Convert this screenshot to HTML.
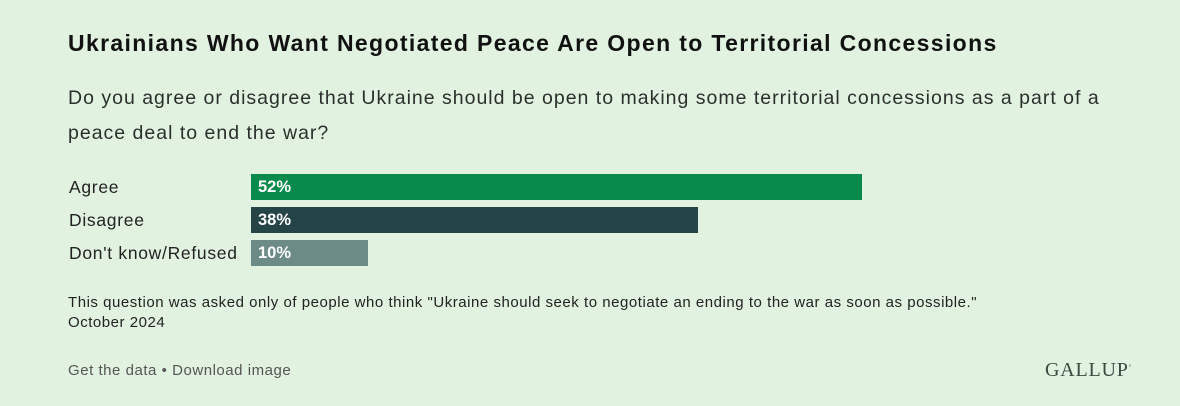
<!DOCTYPE html>
<html><head><style>
body{margin:0;width:1180px;height:406px;background:#e2f2e0;font-family:"Liberation Sans",sans-serif;color:#1e2a24;position:relative;overflow:hidden}
div{position:absolute;white-space:nowrap}
.t{left:68px;top:30px;font-size:23px;letter-spacing:1.35px;font-weight:bold;color:#111}
.s{left:68px;top:81px;font-size:19.5px;letter-spacing:1.0px;line-height:35px;color:#2a2f2c}
.l{left:69px;font-size:17.5px;letter-spacing:0.7px;color:#222}
.b{left:251px;height:26px;color:#fff;font-size:16.5px;font-weight:bold;line-height:26px;padding-left:7px;box-sizing:border-box}
.n{left:68px;font-size:15px;letter-spacing:0.53px;color:#222}
</style></head><body>
<div class="t">Ukrainians Who Want Negotiated Peace Are Open to Territorial Concessions</div>
<div class="s">Do you agree or disagree that Ukraine should be open to making some territorial concessions as a part of a<br>peace deal to end the war?</div>
<div class="l" style="top:177px">Agree</div>
<div class="l" style="top:210px">Disagree</div>
<div class="l" style="top:243px">Don't know/Refused</div>
<div class="b" style="top:174px;width:611px;background:#078a4b">52%</div>
<div class="b" style="top:207px;width:447px;background:#254447">38%</div>
<div class="b" style="top:240px;width:117px;background:#6c8b87">10%</div>
<div class="n" style="top:294px">This question was asked only of people who think "Ukraine should seek to negotiate an ending to the war as soon as possible."</div>
<div class="n" style="top:314px">October 2024</div>
<div class="n" style="top:362px;color:#555">Get the data • Download image</div>
<div style="left:1045px;top:359px;font-family:'Liberation Serif',serif;font-size:20px;color:#3a4a40;letter-spacing:0.8px">GALLUP<sup style="font-size:6px">°</sup></div>
</body></html>
